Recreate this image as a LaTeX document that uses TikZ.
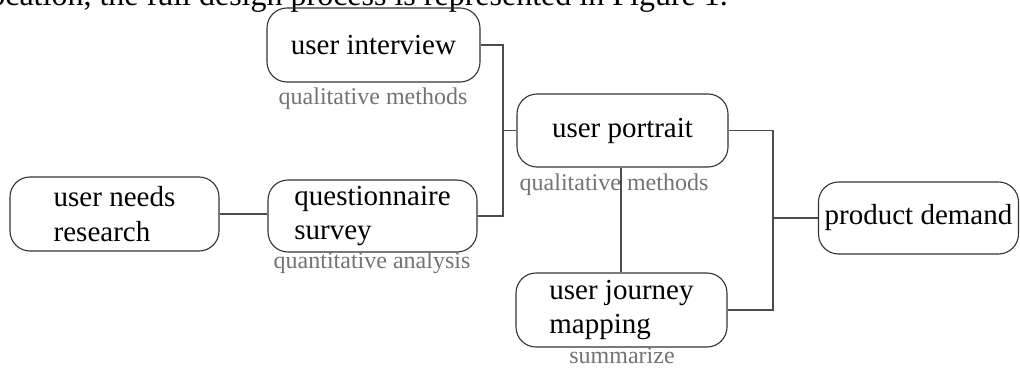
\documentclass[tikz,border=0pt]{standalone}
\usepackage{fontspec}
\setmainfont{Liberation Serif}
\begin{document}
\begin{tikzpicture}[x=1pt,y=-1pt,
  box/.style={draw=black!80, line width=1.1pt, rounded corners=20pt, inner sep=0pt,
    font=\fontsize{29}{34.8}\selectfont, align=left},
  lbl/.style={text=black!55, font=\fontsize{24}{28}\selectfont, anchor=base, inner sep=0pt},
  conn/.style={draw=black!70, line width=1.1pt}]
\useasboundingbox (0,0) rectangle (1020,369);
\clip (0,0) rectangle (1020,369);
\node[anchor=base east, inner sep=0pt, font=\fontsize{32}{38}\selectfont] (top) at (728,5.5) {location, the full design process is represented in Figure 1.};
\node[box, minimum width=213pt, minimum height=74pt] (ui) at (373.5,45) {user interview};
\node[box, minimum width=209pt, minimum height=74pt] (unr) at (114.5,214) {user needs\\research};
\node[box, minimum width=209pt, minimum height=72pt] (qs) at (372.5,216) {questionnaire\\survey};
\node[box, minimum width=211pt, minimum height=73pt] (up) at (622.5,130.5) {user portrait};
\node[box, minimum width=211pt, minimum height=74pt] (ujm) at (621.5,310) {user journey\\mapping};
\node[box, minimum width=200pt, minimum height=72pt] (pd) at (918.5,218) {product demand};
\node[lbl] (l1) at (373,104) {qualitative methods};
\node[lbl] (l2) at (372,268) {quantitative analysis};
\node[lbl] (l3) at (614,190) {qualitative methods};
\node[lbl] (l4) at (622,363.5) {summarize};
\coordinate (j1) at (503,130.5);
\coordinate (j2) at (773,218);
\draw[conn] (unr.east) -- (unr.east -| qs.west);
\draw[conn] (ui.east) -| (j1) |- (qs.east);
\draw[conn] (j1) -- (up.west);
\draw[conn] (up.east) -| (j2) |- (ujm.east);
\draw[conn] (j2) -- (pd.west);
\draw[conn] (up.south -| 621,0) -- (ujm.north -| 621,0);
\end{tikzpicture}
\end{document}
